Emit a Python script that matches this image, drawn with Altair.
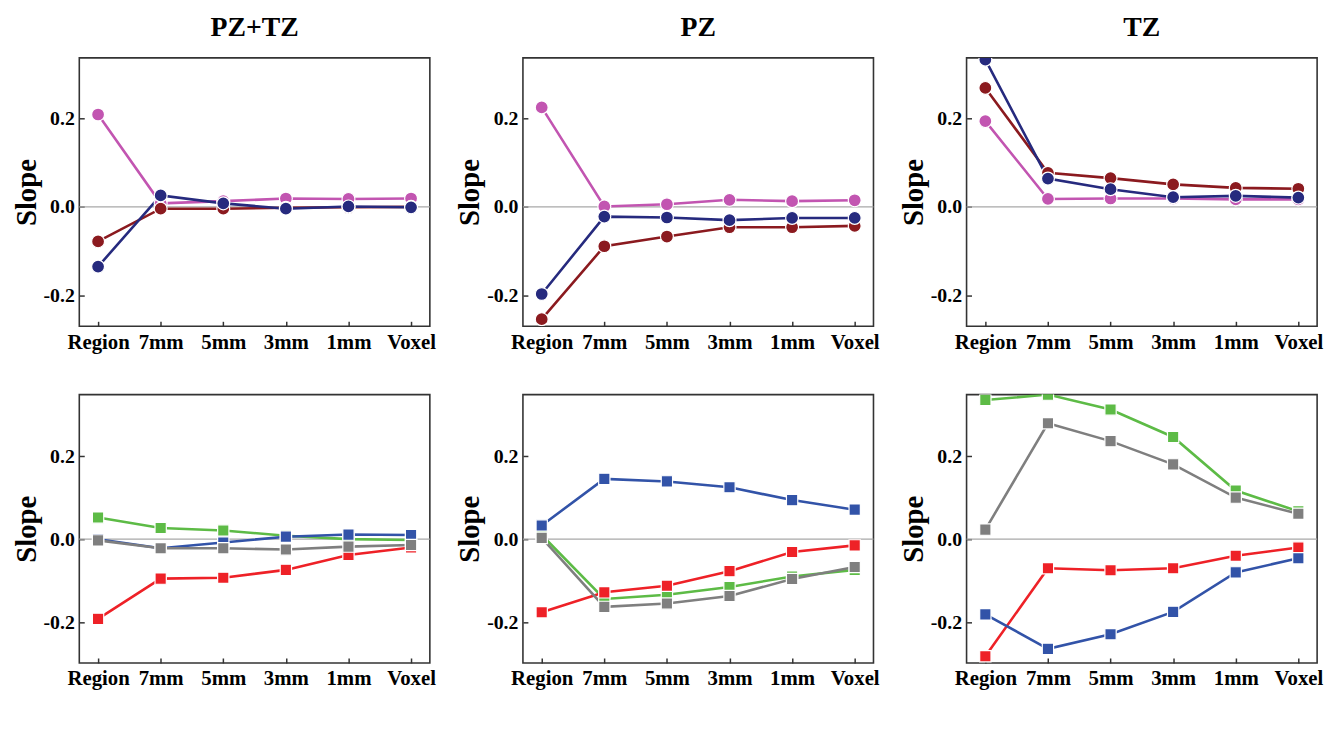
import altair as alt
import pandas as pd

FONT = "Liberation Serif"

res = ["Region", "7mm", "5mm", "3mm", "1mm", "Voxel"]
zones = ["PZ+TZ", "PZ", "TZ"]

mri_series = ["T2W", "ADC", "HighB"]
path_series = ["Lumen", "Stroma", "Epithelium", "Epithelial Nucleus"]
all_series = mri_series + path_series
series_colors = ["#8b1a1f", "#262a7e", "#c255b1", "#ee2127", "#3253a8", "#5dbb46", "#7f7f7f"]

# MRI features (top row)
pztz_t2w = [-0.078, -0.004, -0.004, -0.002, -0.001, 0.000]
pztz_adc = [-0.135, 0.026, 0.008, -0.004, 0.001, -0.001]
pztz_highb = [0.209, 0.008, 0.013, 0.019, 0.018, 0.019]
pz_t2w = [-0.254, -0.089, -0.067, -0.046, -0.046, -0.043]
pz_adc = [-0.197, -0.022, -0.024, -0.030, -0.025, -0.025]
pz_highb = [0.225, 0.001, 0.006, 0.016, 0.013, 0.015]
tz_t2w = [0.269, 0.077, 0.065, 0.051, 0.043, 0.041]
tz_adc = [0.333, 0.064, 0.040, 0.022, 0.025, 0.021]
tz_highb = [0.194, 0.018, 0.019, 0.019, 0.017, 0.017]

# Pathology features (bottom row)
pztz_lumen = [-0.192, -0.095, -0.093, -0.074, -0.038, -0.020]
pztz_stroma = [0.000, -0.022, -0.008, 0.006, 0.011, 0.010]
pztz_epi = [0.052, 0.027, 0.021, 0.008, 0.000, -0.002]
pztz_nuc = [-0.003, -0.022, -0.022, -0.025, -0.018, -0.014]
pz_lumen = [-0.176, -0.128, -0.112, -0.077, -0.031, -0.015]
pz_stroma = [0.033, 0.145, 0.139, 0.125, 0.094, 0.071]
pz_epi = [0.010, -0.144, -0.134, -0.115, -0.090, -0.074]
pz_nuc = [0.003, -0.163, -0.155, -0.137, -0.096, -0.067]
tz_lumen = [-0.282, -0.070, -0.075, -0.070, -0.040, -0.020]
tz_stroma = [-0.181, -0.264, -0.229, -0.175, -0.080, -0.046]
tz_epi = [0.335, 0.348, 0.312, 0.246, 0.117, 0.067]
tz_nuc = [0.023, 0.279, 0.236, 0.180, 0.100, 0.061]

top_values = {
    "PZ+TZ": {"T2W": pztz_t2w, "ADC": pztz_adc, "HighB": pztz_highb},
    "PZ": {"T2W": pz_t2w, "ADC": pz_adc, "HighB": pz_highb},
    "TZ": {"T2W": tz_t2w, "ADC": tz_adc, "HighB": tz_highb},
}
bottom_values = {
    "PZ+TZ": {"Lumen": pztz_lumen, "Stroma": pztz_stroma, "Epithelium": pztz_epi, "Epithelial Nucleus": pztz_nuc},
    "PZ": {"Lumen": pz_lumen, "Stroma": pz_stroma, "Epithelium": pz_epi, "Epithelial Nucleus": pz_nuc},
    "TZ": {"Lumen": tz_lumen, "Stroma": tz_stroma, "Epithelium": tz_epi, "Epithelial Nucleus": tz_nuc},
}
top_draw_order = ["HighB", "T2W", "ADC"]
bottom_draw_order = ["Epithelium", "Lumen", "Stroma", "Epithelial Nucleus"]

top_domain = [-0.27, 0.337]
bottom_domain = [-0.298, 0.348]
y_ticks = [-0.2, 0.0, 0.2]

W, H = 354, 271


def make_df(values, order):
    rows = []
    for s in order:
        for r, v in zip(res, values[s]):
            rows.append({"series": s, "res": r, "value": v})
    return pd.DataFrame(rows)


color_scale = alt.Scale(domain=all_series, range=series_colors)

minus_fix = "replace(datum.label, '\u2212', '-')"


def panel(values, order, ydom, marker, msize, title=None):
    df = make_df(values, order)
    base = alt.Chart(df)
    xscale = alt.Scale(type="point", domain=res, padding=0.3)
    yscale = alt.Scale(domain=ydom, nice=False, zero=False)

    zero = alt.Chart(pd.DataFrame({"zero": [0.0]})).mark_rule(
        color="#a8a8a8", strokeWidth=1.2
    ).encode(y=alt.Y("zero:Q", scale=yscale, axis=None))

    lines = base.mark_line(strokeWidth=2.6, clip=True).encode(
        x=alt.X(
            "res:O",
            scale=xscale,
            axis=alt.Axis(
                title=None, labelAngle=0, ticks=False, domain=False, grid=False,
                labelPadding=5, labelFont=FONT, labelFontSize=21, labelFontWeight="bold",
                labelColor="black", labelOverlap=False,
            ),
        ),
        y=alt.Y(
            "value:Q",
            scale=yscale,
            axis=alt.Axis(
                title="Slope", values=y_ticks, format=".1f", labelExpr=minus_fix,
                ticks=False, domain=False, grid=False,
                labelPadding=5, labelFont=FONT, labelFontSize=20, labelFontWeight="bold",
                labelColor="black",
                titleFont=FONT, titleFontSize=29, titleFontWeight="bold", titleColor="black",
                titlePadding=2,
            ),
        ),
        color=alt.Color("series:N", scale=color_scale, legend=None),
        detail="series:N",
    )

    points = base.mark_point(
        filled=True, opacity=1, stroke="white", strokeWidth=1.2, clip=True,
        shape=marker, size=msize,
    ).encode(
        x=alt.X(
            "res:O",
            scale=xscale,
            axis=alt.Axis(
                orient="top", offset=-H, labels=False, ticks=True, tickSize=5,
                tickColor="#333333", tickWidth=1.5, domain=False, grid=False, title=None,
            ),
        ),
        y=alt.Y(
            "value:Q",
            scale=yscale,
            axis=alt.Axis(
                orient="right", offset=-W, values=y_ticks, labels=False, ticks=True,
                tickSize=5, tickColor="#333333", tickWidth=1.5, domain=False, grid=False,
                title=None,
            ),
        ),
        color=alt.Color("series:N", scale=color_scale, legend=None),
    )

    layered = alt.layer(zero, lines, points).resolve_axis(x="independent", y="independent")
    props = dict(width=W, height=H)
    if title is not None:
        props["title"] = alt.TitleParams(
            text=title, font=FONT, fontSize=28, fontWeight="bold", color="black", offset=16
        )
    return layered.properties(**props)


panels = [
    panel(top_values[z], top_draw_order, top_domain, "circle", 170, title=z) for z in zones
] + [
    panel(bottom_values[z], bottom_draw_order, bottom_domain, "square", 130) for z in zones
]

chart = alt.concat(
    *panels, columns=3, spacing=alt.RowColnumber(row=69, column=94), bounds="flush"
).resolve_scale(
    x="independent", y="independent", color="shared"
).configure(
    background="white", padding={"left": 3, "top": 2, "right": 5, "bottom": 5}
).configure_view(
    stroke="#333333", strokeWidth=1.6
)

chart.save("out.html", embed_options={"renderer": "svg", "actions": False})
